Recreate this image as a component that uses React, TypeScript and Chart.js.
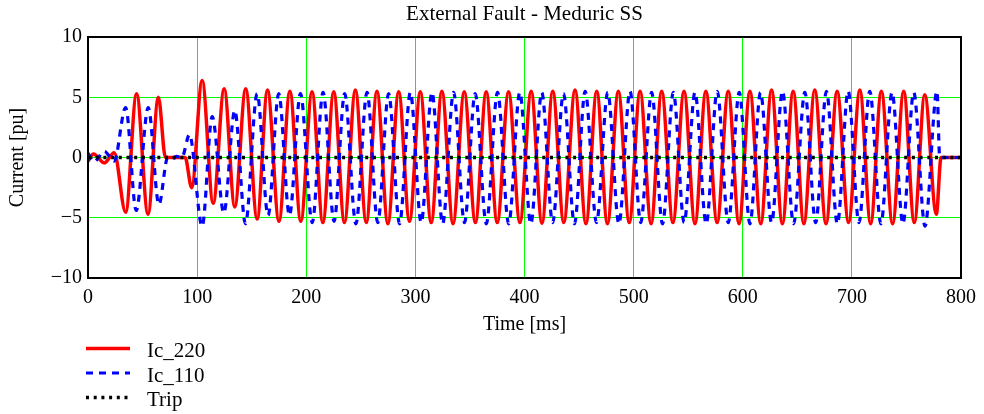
import React, { useEffect, useRef } from "react";
import { Chart, registerables } from "chart.js";

Chart.register(...registerables);

const chartTitle = "External Fault - Meduric SS";
const xTitle = "Time [ms]";
const yTitle = "Current [pu]";
const xMin = 0;
const xMax = 800;
const xStep = 100;
const yMin = -10;
const yMax = 10;
const yStep = 5;

const seriesLabels = ["Ic_220", "Ic_110", "Trip"];

// Ic_220 extrema / key points (time ms, value pu)
const ic220T = [
  0, 5, 15, 24, 34.5, 44.5, 55, 64.5, 71, 89, 95, 104.6, 114.7, 124.8, 134.5, 144.5, 155, 164.5, 175, 185,
  195, 205.3, 215.2, 225.2, 235, 245, 255, 264.8, 274.8, 284.7, 294.6, 304.5, 314.5, 324.3, 334.5, 344.8,
  355, 364.9, 375, 385.4, 395.8, 406.1, 416, 425.9, 436, 446.3, 456.3, 466.2, 476, 486, 496, 505.9, 516,
  525.7, 536, 546.2, 556.2, 566.2, 576.5, 586.7, 596.6, 606.6, 616.5, 626.4, 636.3, 646.2, 656, 666, 676.3,
  686.5, 697, 707.3, 717.2, 727, 737.3, 747.5, 757.2, 766.8, 777.4, 781.7, 800,
];
const ic220V = [
  -0.3, 0.3, -0.45, 0.4, -4.55, 5.3, -4.7, 5.0, 0, 0, -2.5, 6.4, -3.8, 5.7, -4.1, 5.7, -5.1, 5.6, -5.3, 5.5,
  -5.3, 5.45, -5.4, 5.45, -5.4, 5.6, -5.4, 5.5, -5.5, 5.45, -5.3, 5.45, -5.4, 5.5, -5.5, 5.45,
  -5.4, 5.45, -5.4, 5.45, -5.4, 5.5, -5.45, 5.5, -5.4, 5.6, -5.5, 5.5, -5.5, 5.5, -5.4, 5.5, -5.5,
  5.5, -5.4, 5.5, -5.5, 5.5, -5.4, 5.5, -5.5, 5.5, -5.5, 5.6, -5.5, 5.5, -5.5, 5.6, -5.5,
  5.5, -5.4, 5.6, -5.5, 5.5, -5.5, 5.5, -5.4, 5.2, -4.7, 0, 0,
];

// Ic_110 extrema / key points (time ms, value pu)
const ic110T = [
  0, 5.5, 15, 24, 34.5, 44.2, 55.2, 65, 73, 77, 81, 86, 93, 104.6, 113.8, 124.5, 134.5, 144.3, 155, 165,
  174.8, 184.6, 194.7, 205.5, 215.4, 225.5, 235.2, 245.5, 255.7, 265.5, 275.5, 285.5, 295.4, 305.3, 315.2,
  325, 335, 345, 354.8, 365, 375.3, 385.5, 395.7, 405.8, 415.8, 425.8, 435.7, 445.8, 455.6, 466, 476.3,
  486.5, 496.7, 506.5, 516.5, 526.5, 536.4, 546.3, 556.2, 566.5, 576.6, 586.7, 596.8, 606.6, 616.3, 626.4,
  636.4, 646.6, 656.9, 666.8, 676.7, 686.7, 696.6, 706.5, 716.4, 726.6, 736.8, 746.8, 756.7, 767, 778,
  780.5, 800,
];
const ic110V = [
  0.35, -0.35, 0.5, -0.3, 4.15, -4.4, 4.15, -3.9, 0, -0.15, 0.1, 0, 1.9, -5.7, 3.4, -4.6, 3.9, -5.5, 5.3, -4.8,
  5.3, -4.8, 5.3, -5.4, 5.4, -5.3, 5.3, -5.5, 5.4, -5.4, 5.3, -5.5, 5.4, -5.4, 5.4,
  -5.5, 5.4, -5.4, 5.3, -5.5, 5.4, -5.5, 5.4, -5.5, 5.4, -5.4, 5.3, -5.5, 5.5, -5.4, 5.4,
  -5.5, 5.5, -5.4, 5.4, -5.5, 5.4, -5.4, 5.4, -5.5, 5.5, -5.4, 5.4, -5.5, 5.4, -5.4,
  5.5, -5.5, 5.4, -5.4, 5.5, -5.5, 5.5, -5.4, 5.5, -5.5, 5.4, -5.5, 5.4, -5.7, 5.5,
  0, 0,
];

// Trip signal
const tripT = [0, 800];
const tripV = [0, 0];

const FONT = "'Liberation Serif', 'Times New Roman', serif";

const toPoints = (t: number[], v: number[]) => t.map((x, i) => ({ x, y: v[i] }));

const overlayPlugin = {
  id: "overlay",
  afterDatasetsDraw(chart: any) {
    const { ctx, chartArea } = chart;
    ctx.save();
    ctx.strokeStyle = "#000000";
    ctx.lineWidth = 2;
    ctx.strokeRect(chartArea.left, chartArea.top, chartArea.right - chartArea.left, chartArea.bottom - chartArea.top);
    ctx.restore();
  },
  afterDraw(chart: any) {
    const { ctx, chartArea } = chart;
    ctx.save();
    ctx.fillStyle = "#000000";
    ctx.font = `21px ${FONT}`;
    ctx.textAlign = "center";
    ctx.textBaseline = "alphabetic";
    ctx.fillText(chartTitle, (chartArea.left + chartArea.right) / 2, 20);

    // legend
    const datasets = chart.data.datasets;
    [0, 1, 2].forEach((di, row) => {
      const ds = datasets[di];
      const ly = 348.5 + row * 24.5;
      ctx.beginPath();
      ctx.strokeStyle = ds.borderColor;
      ctx.lineWidth = ds.borderWidth;
      ctx.setLineDash(ds.borderDash || []);
      ctx.lineCap = "butt";
      ctx.moveTo(86, ly);
      ctx.lineTo(130, ly);
      ctx.stroke();
      ctx.setLineDash([]);
      ctx.fillStyle = "#000000";
      ctx.textAlign = "left";
      ctx.textBaseline = "alphabetic";
      ctx.font = `21px ${FONT}`;
      ctx.fillText(ds.label, 147, ly + 8.5);
    });
    ctx.restore();
  },
};

export default function App() {
  const canvasRef = useRef<HTMLCanvasElement | null>(null);

  useEffect(() => {
    if (!canvasRef.current) return;
    const chart = new Chart(canvasRef.current, {
      type: "line",
      data: {
        datasets: [
          {
            label: seriesLabels[0],
            data: toPoints(ic220T, ic220V),
            borderColor: "#ff0000",
            borderWidth: 3.5,
            pointRadius: 0,
            cubicInterpolationMode: "monotone",
            fill: false,
            order: 2,
          },
          {
            label: seriesLabels[1],
            data: toPoints(ic110T, ic110V),
            borderColor: "#0000ff",
            borderWidth: 3.2,
            borderDash: [7, 6],
            pointRadius: 0,
            cubicInterpolationMode: "monotone",
            fill: false,
            order: 1,
          },
          {
            label: seriesLabels[2],
            data: toPoints(tripT, tripV),
            borderColor: "#000000",
            borderWidth: 3.5,
            borderDash: [3, 4.7],
            pointRadius: 0,
            fill: false,
            order: 0,
          },
        ],
      },
      options: {
        animation: false,
        responsive: false,
        maintainAspectRatio: false,
        layout: { padding: { top: 37, right: 21, left: 0, bottom: 77 } },
        plugins: {
          legend: { display: false },
          title: { display: false },
          tooltip: { enabled: false },
        },
        scales: {
          x: {
            type: "linear",
            min: xMin,
            max: xMax,
            afterFit: (scale: any) => {
              scale.height = 59;
            },
            ticks: {
              stepSize: xStep,
              color: "#000000",
              font: { family: FONT, size: 20 },
              padding: 8,
              maxRotation: 0,
              autoSkip: false,
            },
            grid: { color: "#00ff00", lineWidth: 1, drawTicks: false },
            border: { display: false },
            title: {
              display: true,
              text: xTitle,
              color: "#000000",
              font: { family: FONT, size: 20 },
              padding: { top: 0, bottom: 0 },
            },
          },
          y: {
            type: "linear",
            min: yMin,
            max: yMax,
            afterFit: (scale: any) => {
              scale.width = 88;
            },
            ticks: {
              stepSize: yStep,
              color: "#000000",
              font: { family: FONT, size: 20 },
              padding: 6,
              callback: (v: any) => String(v).replace("-", "\u2212"),
            },
            grid: { color: "#00ff00", lineWidth: 1, drawTicks: false },
            border: { display: false },
            title: {
              display: true,
              text: yTitle,
              color: "#000000",
              font: { family: FONT, size: 20 },
              padding: { top: 6, bottom: 0 },
            },
          },
        },
      },
      plugins: [overlayPlugin],
    });
    return () => chart.destroy();
  }, []);

  return (
    <div style={{ position: "fixed", left: 0, top: 0, width: 984, height: 414, background: "#ffffff" }}>
      <canvas ref={canvasRef} width={984} height={414} style={{ width: 984, height: 414, display: "block" }} />
    </div>
  );
}
